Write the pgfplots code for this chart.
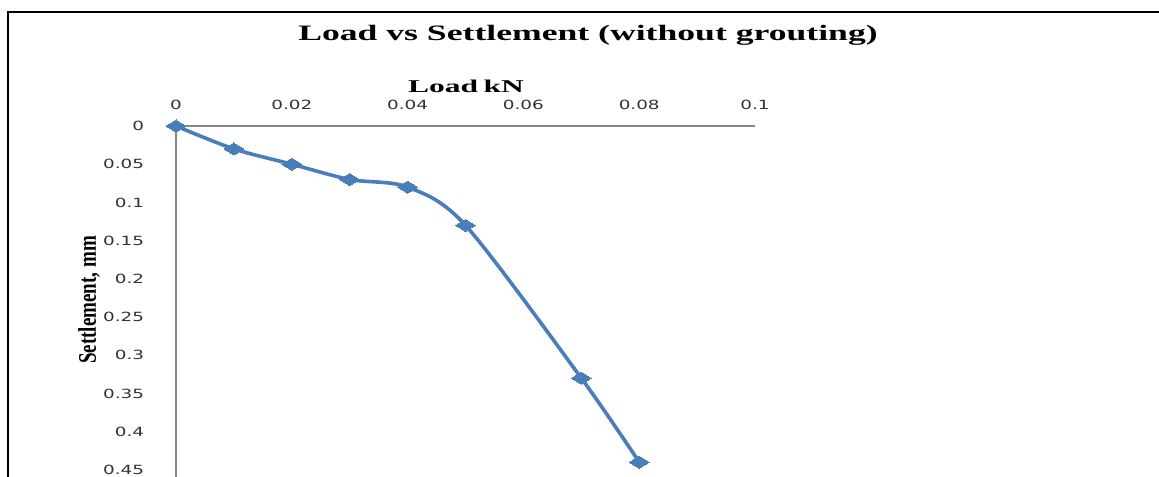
\documentclass[border=0pt]{standalone}
\usepackage{pgfplots}
\pgfplotsset{compat=1.18}
\usepackage{fontspec}
\setmainfont{Liberation Serif}
\newfontfamily\tickfont{DejaVu Sans}

\definecolor{lineblue}{RGB}{74,126,187}
\definecolor{axisgray}{RGB}{134,134,134}

\begin{document}
\begin{tikzpicture}[x=0.75pt,y=0.75pt]
\useasboundingbox (0,0) rectangle (1159,477);
% frame (left and top only are visible)
\draw[line width=1.6pt,black] (8,0) -- (8,465) -- (1159,465);

\node[font=\bfseries\fontsize{16.5}{18}\selectfont,xscale=1.62] at (588,442) {Load vs Settlement (without grouting)};
\node[font=\bfseries\fontsize{13.5}{15}\selectfont,xscale=1.75] at (466,391) {Load\hspace{-1pt} kN};
\node[font=\bfseries\fontsize{19}{21}\selectfont,rotate=90,xscale=0.75] at (89,177) {Settlement, mm};

\begin{axis}[
  at={(132pt,0pt)}, anchor=south west,
  scale only axis,
  width=434.25pt, height=263.25pt,
  xmin=0, xmax=0.1,
  ymin=0, ymax=0.4594,
  y dir=reverse,
  axis x line=top,
  axis y line=left,
  axis line style={axisgray, line width=0.8pt, -},
  xtick={0,0.02,...,0.1},
  ytick={0,0.05,...,0.45},
  major tick length=0pt,
  xticklabel style={font=\tickfont\fontsize{9.5}{11}\selectfont, text=black!80, xscale=1.45, yshift=9pt},
  yticklabel style={font=\tickfont\fontsize{9.5}{11}\selectfont, text=black!80, xscale=1.45, xshift=-13pt},
  /pgf/number format/assume math mode=true,
  /pgf/number format/fixed,
  /pgf/number format/precision=2,
  clip=true,
]
\addplot[lineblue, line width=2.7pt, smooth, tension=0.5,
  mark=diamond*, mark size=4.5pt, mark options={fill=lineblue, draw=lineblue, line width=0pt, xscale=2.2}]
coordinates {
(0,0) (0.01,0.03) (0.02,0.05) (0.03,0.07) (0.04,0.08) (0.05,0.13) (0.07,0.33) (0.08,0.44)
};
\end{axis}
\end{tikzpicture}
\end{document}
